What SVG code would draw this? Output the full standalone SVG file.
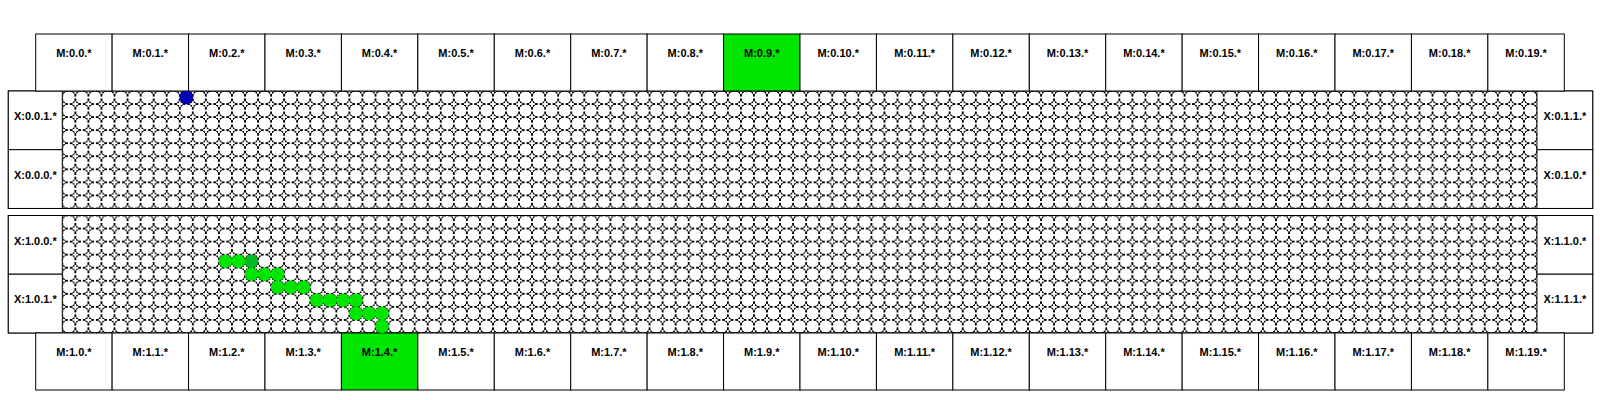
<svg xmlns="http://www.w3.org/2000/svg" width="1600" height="400" viewBox="0 0 1600 400">
<style>
.box rect{fill:#fff;stroke:#000;stroke-width:1}
.box.hot rect{fill:#00e600}
.box text{font-family:"Liberation Sans",Arial,sans-serif;font-weight:bold;font-size:11px;fill:#000;text-anchor:middle}
.frame{fill:none;stroke:#000;stroke-width:1}
.cell{fill:#fff;stroke:#000;stroke-width:1;shape-rendering:crispEdges}
.pt{fill:#00e600}
.pt.dark{fill:#00bb22}
.pt.blue{fill:#0000b4}
</style>
<defs>
<pattern id="cellsTop" patternUnits="userSpaceOnUse" x="62.3" y="91" width="13.05" height="13.05">
<rect width="13.05" height="13.05" fill="#fff"/>
<circle class="cell" cx="6.525" cy="6.525" r="6.8"/>
</pattern>
<pattern id="cellsBot" patternUnits="userSpaceOnUse" x="62.3" y="215.5" width="13.05" height="13.05">
<rect width="13.05" height="13.05" fill="#fff"/>
<circle class="cell" cx="6.525" cy="6.525" r="6.8"/>
</pattern>
</defs>
<rect width="1600" height="400" fill="#fff"/>

<g id="mesh-0">
<rect x="62.3" y="91" width="1474.65" height="117.45" fill="url(#cellsTop)"/>
<rect class="frame" x="8.3" y="91" width="1584.4" height="117.45"/>
</g>
<g id="mesh-1">
<rect x="62.3" y="215.5" width="1474.65" height="117.45" fill="url(#cellsBot)"/>
<rect class="frame" x="8.3" y="215.5" width="1584.4" height="117.45"/>
</g>

<g id="x-0-0-1" class="box" transform="translate(8.3,91)"><rect width="54" height="58.7"/><text x="27" y="29">X:0.0.1.*</text></g>
<g id="x-0-0-0" class="box" transform="translate(8.3,149.7)"><rect width="54" height="58.75"/><text x="27" y="29">X:0.0.0.*</text></g>
<g id="x-0-1-1" class="box" transform="translate(1536.95,91)"><rect width="55.75" height="58.7"/><text x="27.9" y="29">X:0.1.1.*</text></g>
<g id="x-0-1-0" class="box" transform="translate(1536.95,149.7)"><rect width="55.75" height="58.75"/><text x="27.9" y="29">X:0.1.0.*</text></g>
<g id="x-1-0-0" class="box" transform="translate(8.3,215.5)"><rect width="54" height="58.7"/><text x="27" y="29">X:1.0.0.*</text></g>
<g id="x-1-0-1" class="box" transform="translate(8.3,274.2)"><rect width="54" height="58.75"/><text x="27" y="29">X:1.0.1.*</text></g>
<g id="x-1-1-0" class="box" transform="translate(1536.95,215.5)"><rect width="55.75" height="58.7"/><text x="27.9" y="29">X:1.1.0.*</text></g>
<g id="x-1-1-1" class="box" transform="translate(1536.95,274.2)"><rect width="55.75" height="58.75"/><text x="27.9" y="29">X:1.1.1.*</text></g>

<g id="m-0-0" class="box" transform="translate(35.7,34)"><rect width="76.43" height="57"/><text x="38.2" y="23">M:0.0.*</text></g>
<g id="m-0-1" class="box" transform="translate(112.13,34)"><rect width="76.43" height="57"/><text x="38.2" y="23">M:0.1.*</text></g>
<g id="m-0-2" class="box" transform="translate(188.56,34)"><rect width="76.43" height="57"/><text x="38.2" y="23">M:0.2.*</text></g>
<g id="m-0-3" class="box" transform="translate(264.99,34)"><rect width="76.43" height="57"/><text x="38.2" y="23">M:0.3.*</text></g>
<g id="m-0-4" class="box" transform="translate(341.42,34)"><rect width="76.43" height="57"/><text x="38.2" y="23">M:0.4.*</text></g>
<g id="m-0-5" class="box" transform="translate(417.85,34)"><rect width="76.43" height="57"/><text x="38.2" y="23">M:0.5.*</text></g>
<g id="m-0-6" class="box" transform="translate(494.28,34)"><rect width="76.43" height="57"/><text x="38.2" y="23">M:0.6.*</text></g>
<g id="m-0-7" class="box" transform="translate(570.71,34)"><rect width="76.43" height="57"/><text x="38.2" y="23">M:0.7.*</text></g>
<g id="m-0-8" class="box" transform="translate(647.14,34)"><rect width="76.43" height="57"/><text x="38.2" y="23">M:0.8.*</text></g>
<g id="m-0-9" class="box hot" transform="translate(723.57,34)"><rect width="76.43" height="57"/><text x="38.2" y="23">M:0.9.*</text></g>
<g id="m-0-10" class="box" transform="translate(800,34)"><rect width="76.43" height="57"/><text x="38.2" y="23">M:0.10.*</text></g>
<g id="m-0-11" class="box" transform="translate(876.43,34)"><rect width="76.43" height="57"/><text x="38.2" y="23">M:0.11.*</text></g>
<g id="m-0-12" class="box" transform="translate(952.86,34)"><rect width="76.43" height="57"/><text x="38.2" y="23">M:0.12.*</text></g>
<g id="m-0-13" class="box" transform="translate(1029.29,34)"><rect width="76.43" height="57"/><text x="38.2" y="23">M:0.13.*</text></g>
<g id="m-0-14" class="box" transform="translate(1105.72,34)"><rect width="76.43" height="57"/><text x="38.2" y="23">M:0.14.*</text></g>
<g id="m-0-15" class="box" transform="translate(1182.15,34)"><rect width="76.43" height="57"/><text x="38.2" y="23">M:0.15.*</text></g>
<g id="m-0-16" class="box" transform="translate(1258.58,34)"><rect width="76.43" height="57"/><text x="38.2" y="23">M:0.16.*</text></g>
<g id="m-0-17" class="box" transform="translate(1335.01,34)"><rect width="76.43" height="57"/><text x="38.2" y="23">M:0.17.*</text></g>
<g id="m-0-18" class="box" transform="translate(1411.44,34)"><rect width="76.43" height="57"/><text x="38.2" y="23">M:0.18.*</text></g>
<g id="m-0-19" class="box" transform="translate(1487.87,34)"><rect width="76.43" height="57"/><text x="38.2" y="23">M:0.19.*</text></g>

<g id="m-1-0" class="box" transform="translate(35.7,333)"><rect width="76.43" height="57"/><text x="38.2" y="23">M:1.0.*</text></g>
<g id="m-1-1" class="box" transform="translate(112.13,333)"><rect width="76.43" height="57"/><text x="38.2" y="23">M:1.1.*</text></g>
<g id="m-1-2" class="box" transform="translate(188.56,333)"><rect width="76.43" height="57"/><text x="38.2" y="23">M:1.2.*</text></g>
<g id="m-1-3" class="box" transform="translate(264.99,333)"><rect width="76.43" height="57"/><text x="38.2" y="23">M:1.3.*</text></g>
<g id="m-1-4" class="box hot" transform="translate(341.42,333)"><rect width="76.43" height="57"/><text x="38.2" y="23">M:1.4.*</text></g>
<g id="m-1-5" class="box" transform="translate(417.85,333)"><rect width="76.43" height="57"/><text x="38.2" y="23">M:1.5.*</text></g>
<g id="m-1-6" class="box" transform="translate(494.28,333)"><rect width="76.43" height="57"/><text x="38.2" y="23">M:1.6.*</text></g>
<g id="m-1-7" class="box" transform="translate(570.71,333)"><rect width="76.43" height="57"/><text x="38.2" y="23">M:1.7.*</text></g>
<g id="m-1-8" class="box" transform="translate(647.14,333)"><rect width="76.43" height="57"/><text x="38.2" y="23">M:1.8.*</text></g>
<g id="m-1-9" class="box" transform="translate(723.57,333)"><rect width="76.43" height="57"/><text x="38.2" y="23">M:1.9.*</text></g>
<g id="m-1-10" class="box" transform="translate(800,333)"><rect width="76.43" height="57"/><text x="38.2" y="23">M:1.10.*</text></g>
<g id="m-1-11" class="box" transform="translate(876.43,333)"><rect width="76.43" height="57"/><text x="38.2" y="23">M:1.11.*</text></g>
<g id="m-1-12" class="box" transform="translate(952.86,333)"><rect width="76.43" height="57"/><text x="38.2" y="23">M:1.12.*</text></g>
<g id="m-1-13" class="box" transform="translate(1029.29,333)"><rect width="76.43" height="57"/><text x="38.2" y="23">M:1.13.*</text></g>
<g id="m-1-14" class="box" transform="translate(1105.72,333)"><rect width="76.43" height="57"/><text x="38.2" y="23">M:1.14.*</text></g>
<g id="m-1-15" class="box" transform="translate(1182.15,333)"><rect width="76.43" height="57"/><text x="38.2" y="23">M:1.15.*</text></g>
<g id="m-1-16" class="box" transform="translate(1258.58,333)"><rect width="76.43" height="57"/><text x="38.2" y="23">M:1.16.*</text></g>
<g id="m-1-17" class="box" transform="translate(1335.01,333)"><rect width="76.43" height="57"/><text x="38.2" y="23">M:1.17.*</text></g>
<g id="m-1-18" class="box" transform="translate(1411.44,333)"><rect width="76.43" height="57"/><text x="38.2" y="23">M:1.18.*</text></g>
<g id="m-1-19" class="box" transform="translate(1487.87,333)"><rect width="76.43" height="57"/><text x="38.2" y="23">M:1.19.*</text></g>

<g id="connectors">
<circle class="pt blue" cx="186.3" cy="97.5" r="6.8"/>
<circle class="pt" cx="225.4" cy="261.2" r="6.8"/>
<circle class="pt" cx="238.5" cy="261.2" r="6.8"/>
<circle class="pt dark" cx="251.5" cy="261.2" r="6.8"/>
<circle class="pt" cx="251.5" cy="274.2" r="6.8"/>
<circle class="pt" cx="264.6" cy="274.2" r="6.8"/>
<circle class="pt" cx="277.6" cy="274.2" r="6.8"/>
<circle class="pt" cx="277.6" cy="287.3" r="6.8"/>
<circle class="pt" cx="290.7" cy="287.3" r="6.8"/>
<circle class="pt" cx="303.7" cy="287.3" r="6.8"/>
<circle class="pt" cx="316.8" cy="300.3" r="6.8"/>
<circle class="pt" cx="329.8" cy="300.3" r="6.8"/>
<circle class="pt" cx="342.9" cy="300.3" r="6.8"/>
<circle class="pt" cx="355.9" cy="300.3" r="6.8"/>
<circle class="pt" cx="355.9" cy="313.4" r="6.8"/>
<circle class="pt" cx="369.0" cy="313.4" r="6.8"/>
<circle class="pt" cx="382.0" cy="313.4" r="6.8"/>
<circle class="pt" cx="382.0" cy="326.4" r="6.8"/>
</g>
</svg>
